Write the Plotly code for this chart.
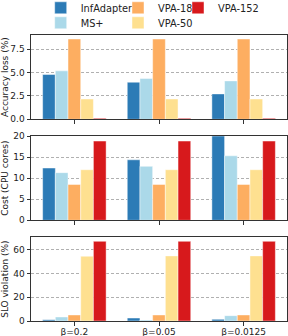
import plotly.graph_objects as go

categories = ["β=0.2", "β=0.05", "β=0.0125"]
methods = ["InfAdapter", "MS+", "VPA-18", "VPA-50", "VPA-152"]
colors = ["#2c7bb6", "#abd9e9", "#fdae61", "#fee090", "#d7191c"]

accuracy_loss = {
    "InfAdapter": [4.78, 3.96, 2.71],
    "MS+": [5.17, 4.35, 4.10],
    "VPA-18": [8.57, 8.57, 8.57],
    "VPA-50": [2.17, 2.17, 2.17],
    "VPA-152": [0.10, 0.10, 0.10],
}
cost = {
    "InfAdapter": [12.4, 14.35, 20.0],
    "MS+": [11.3, 12.8, 15.3],
    "VPA-18": [8.5, 8.5, 8.5],
    "VPA-50": [12.0, 12.0, 12.0],
    "VPA-152": [18.8, 18.8, 18.8],
}
slo_violation = {
    "InfAdapter": [1.0, 2.5, 1.4],
    "MS+": [3.4, 0.8, 4.5],
    "VPA-18": [5.1, 5.1, 5.1],
    "VPA-50": [54.7, 55.0, 55.0],
    "VPA-152": [67.3, 67.3, 67.3],
}

W, H = 288, 336
L, R = 31, 1
FONT = "DejaVu Sans"
x_idx = list(range(len(categories)))

fig = go.Figure()
legend_names = ["legend", "legend2", "legend3", "legend4", "legend5"]
panels = [(accuracy_loss, "y"), (cost, "y2"), (slo_violation, "y3")]
xaxes = ["x", "x2", "x3"]
for p, (data, ya) in enumerate(panels):
    for i, m in enumerate(methods):
        fig.add_trace(go.Bar(
            x=x_idx, y=data[m], name=m,
            marker=dict(color=colors[i], line=dict(color="rgba(255,255,255,0.45)", width=1)),
            xaxis=xaxes[p], yaxis=ya,
            showlegend=(p == 0), legend=legend_names[i],
        ))

def ydom(top_px, bot_px):
    return [1 - bot_px / H, 1 - top_px / H]

axis_common = dict(
    showline=True, linecolor="#333333", linewidth=1, mirror=True,
    ticks="outside", ticklen=3.5, tickcolor="#333333", tickwidth=1,
    tickfont=dict(family=FONT, size=9, color="#222222"),
    zeroline=False,
)
yaxis_common = dict(axis_common, showgrid=True, gridcolor="#b0b0b0", griddash="3px,2px", gridwidth=0.8)
xaxis_common = dict(axis_common, showgrid=False, range=[-0.5125, 2.5125],
                    tickmode="array", tickvals=x_idx)

title_font = dict(family=FONT, size=9, color="#222222")

fig.update_layout(
    width=W, height=H,
    margin=dict(l=L, r=R, t=0, b=0, autoexpand=False),
    paper_bgcolor="white", plot_bgcolor="white",
    barmode="group", bargap=0.25, bargroupgap=0,
    xaxis=dict(xaxis_common, anchor="y", ticktext=["", "", ""]),
    xaxis2=dict(xaxis_common, anchor="y2", ticktext=["", "", ""]),
    xaxis3=dict(xaxis_common, anchor="y3", ticktext=categories, ticklabelstandoff=-1),
    yaxis=dict(yaxis_common, domain=ydom(35, 119.3), range=[0, 9], dtick=2.5, tick0=0,
               tickformat=".1f", title=dict(text="Accuracy loss (%)", font=title_font, standoff=1)),
    yaxis2=dict(yaxis_common, domain=ydom(136, 220.3), range=[0, 20], dtick=5, tick0=0,
                title=dict(text="Cost (CPU cores)", font=title_font, standoff=3)),
    yaxis3=dict(yaxis_common, domain=ydom(237.3, 321), range=[0, 70.7], dtick=20, tick0=0,
                title=dict(text="SLO violation (%)", font=title_font, standoff=3)),
)

legend_pos = [(81.7, 7.3), (81.7, 22.3), (159, 7.3), (159, 22.3), (219, 7.3)]
for name, (tx, ty) in zip(legend_names, legend_pos):
    fig.update_layout({name: dict(
        x=(tx - 41 - L) / (W - L - R), xanchor="left",
        y=1 - (ty - 14) / H, yanchor="top",
        bgcolor="rgba(0,0,0,0)", borderwidth=0,
        font=dict(family=FONT, size=9.8, color="#222222"),
        itemwidth=30,
    )})

fig.write_html(
    "out.html",
    config={"displayModeBar": False},
    post_script="document.body.style.margin='0';document.body.style.overflow='hidden';",
)
